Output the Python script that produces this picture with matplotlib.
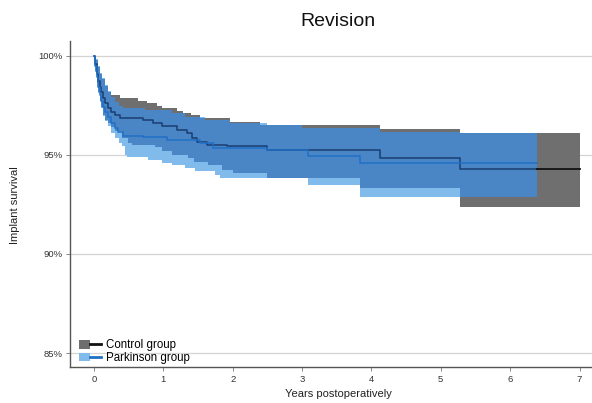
import numpy as np
import matplotlib
matplotlib.use("Agg")
import matplotlib.pyplot as plt
from matplotlib.patches import Patch
from matplotlib.lines import Line2D
from matplotlib.legend_handler import HandlerTuple

plt.rcParams['font.family'] = ['Liberation Sans', 'DejaVu Sans']

# ---------------- data (years, implant survival %) ----------------
ctrl_end = 7.0
ctrl_t  = [0, 0.02, 0.04, 0.06, 0.08, 0.10, 0.13, 0.16, 0.20, 0.25, 0.30, 0.37, 0.70, 0.85, 0.98, 1.20, 1.34, 1.41, 1.48, 1.63, 1.92, 2.49, 4.12, 5.27]
ctrl_s  = [100, 99.6, 99.1, 98.7, 98.4, 98.15, 97.85, 97.6, 97.35, 97.15, 97.0, 96.85, 96.77, 96.6, 96.43, 96.26, 96.1, 95.84, 95.67, 95.5, 95.42, 95.22, 94.83, 94.29]

ctrl_hi_t = [0, 0.03, 0.06, 0.09, 0.12, 0.16, 0.20, 0.25, 0.37, 0.64, 0.77, 0.91, 0.98, 1.20, 1.29, 1.40, 1.53, 1.96, 2.39, 4.12, 5.27]
ctrl_hi   = [100, 99.8, 99.45, 99.1, 98.8, 98.45, 98.15, 98.03, 97.86, 97.73, 97.61, 97.44, 97.36, 97.19, 97.11, 97.02, 96.85, 96.68, 96.52, 96.3, 96.11]

ctrl_lo_t = [0, 0.02, 0.04, 0.06, 0.08, 0.10, 0.13, 0.16, 0.20, 0.25, 0.30, 0.40, 0.49, 0.55, 0.88, 0.98, 1.12, 1.35, 1.44, 1.64, 1.85, 2.00, 2.49, 3.83, 5.27]
ctrl_lo   = [100, 99.25, 98.65, 98.15, 97.75, 97.4, 97.0, 96.75, 96.6, 96.4, 96.18, 95.84, 95.59, 95.5, 95.38, 95.17, 95.0, 94.83, 94.66, 94.5, 94.25, 94.07, 93.82, 93.33, 92.37]

park_end = 6.38
park_t  = [0, 0.02, 0.04, 0.06, 0.08, 0.10, 0.13, 0.16, 0.20, 0.25, 0.30, 0.35, 0.42, 0.71, 1.05, 1.53, 1.71, 2.49, 3.08, 3.83]
park_s  = [100, 99.5, 98.9, 98.4, 98.0, 97.7, 97.4, 97.15, 96.9, 96.6, 96.35, 96.15, 95.96, 95.89, 95.76, 95.59, 95.34, 95.22, 94.95, 94.58]

park_hi_t = [0, 0.03, 0.06, 0.09, 0.12, 0.16, 0.20, 0.25, 0.30, 0.36, 0.42, 0.73, 1.12, 1.31, 1.60, 1.96, 2.49, 3.00, 4.12, 5.27]
park_hi   = [100, 99.85, 99.5, 99.15, 98.85, 98.5, 98.2, 97.9, 97.65, 97.45, 97.36, 97.27, 97.11, 96.93, 96.77, 96.6, 96.5, 96.35, 96.13, 96.11]

park_lo_t = [0, 0.02, 0.04, 0.06, 0.08, 0.10, 0.13, 0.16, 0.20, 0.25, 0.30, 0.36, 0.40, 0.45, 0.48, 0.78, 0.98, 1.12, 1.31, 1.45, 1.75, 1.82, 3.08, 3.83]
park_lo   = [100, 99.2, 98.6, 98.1, 97.7, 97.35, 96.95, 96.7, 96.45, 96.1, 95.84, 95.6, 95.42, 95.0, 94.91, 94.75, 94.58, 94.5, 94.33, 94.16, 93.99, 93.82, 93.48, 92.89]

groups = ["Control group", "Parkinson group"]
x_ticks = [0, 1, 2, 3, 4, 5, 6, 7]
y_ticks = [85, 90, 95, 100]
y_ticklabels = ["85%", "90%", "95%", "100%"]

# ---------------- helpers ----------------
def step_eval(t, v, grid):
    t = np.asarray(t, float)
    v = np.asarray(v, float)
    idx = np.searchsorted(t, grid, side='right') - 1
    idx = np.clip(idx, 0, len(v) - 1)
    return v[idx]

def grid_of(end, *ts):
    g = np.unique(np.concatenate([np.asarray(t, float) for t in ts] + [[end]]))
    return g[g <= end]

# colours
c_gray = "#6f6f6f"
c_light = "#80bbec"
c_mid = "#4a86c6"
c_park_line = "#1f6fc5"
c_ctrl_line = "#1a3f70"

fig = plt.figure(figsize=(5.92, 4.03), dpi=100)
ax = fig.add_axes([69.5 / 592, 36 / 403, 1 - 69.5 / 592, (367 - 41) / 403])

# gridlines
for yv in y_ticks:
    ax.axhline(yv, color="#d4d4d4", lw=0.9, zorder=0)

# control CI
gc = grid_of(ctrl_end, ctrl_t, ctrl_hi_t, ctrl_lo_t)
ax.fill_between(gc, step_eval(ctrl_lo_t, ctrl_lo, gc), step_eval(ctrl_hi_t, ctrl_hi, gc),
                step='post', color=c_gray, lw=0, zorder=1)
# parkinson CI
gp = grid_of(park_end, park_t, park_hi_t, park_lo_t)
ax.fill_between(gp, step_eval(park_lo_t, park_lo, gp), step_eval(park_hi_t, park_hi, gp),
                step='post', color=c_light, lw=0, zorder=2)
# overlap of both confidence bands
go = grid_of(park_end, ctrl_t, ctrl_hi_t, ctrl_lo_t, park_t, park_hi_t, park_lo_t)
o_lo = np.maximum(step_eval(ctrl_lo_t, ctrl_lo, go), step_eval(park_lo_t, park_lo, go))
o_hi = np.minimum(step_eval(ctrl_hi_t, ctrl_hi, go), step_eval(park_hi_t, park_hi, go))
ax.fill_between(go, o_lo, o_hi, where=o_hi >= o_lo, step='post', color=c_mid, lw=0, zorder=3)

# survival lines
gcs = grid_of(ctrl_end, ctrl_t)
inside = gcs <= park_end
g_in = np.append(gcs[inside], park_end)
ax.step(g_in, step_eval(ctrl_t, ctrl_s, g_in), where='post', color=c_ctrl_line, lw=1.1, zorder=4)
g_out = np.unique(np.concatenate([[park_end], gcs[gcs > park_end], [ctrl_end]]))
ax.step(g_out, step_eval(ctrl_t, ctrl_s, g_out), where='post', color="#111111", lw=1.3, zorder=4)

gps = grid_of(park_end, park_t)
ax.step(gps, step_eval(park_t, park_s, gps), where='post', color=c_park_line, lw=1.1, zorder=5)

# axes styling
ax.set_xlim(-0.353, 7.18)
ax.set_ylim(84.3, 100.74)
ax.set_xticks(x_ticks)
ax.set_yticks(y_ticks)
ax.set_yticklabels(y_ticklabels)
ax.tick_params(axis='both', labelsize=6.8, colors="#333333", length=3, width=0.7, pad=2)
ax.tick_params(axis='y', color="#888888")
ax.tick_params(axis='x', color="#888888", pad=3)
for s in ["top", "right"]:
    ax.spines[s].set_visible(False)
for s in ["left", "bottom"]:
    ax.spines[s].set_color("#555555")
    ax.spines[s].set_linewidth(1.0)
ax.set_facecolor("white")

fig.text(338 / 592, 1 - 22 / 403, "Revision", ha="center", va="center", fontsize=14, color="#111111")
fig.text(338 / 592, 1 - 394 / 403, "Years postoperatively", ha="center", va="center", fontsize=8, color="#222222")
fig.text(15 / 592, 1 - 205 / 403, "Implant survival", ha="center", va="center", rotation=90, fontsize=8, color="#222222")

handles = [
    (Patch(facecolor=c_gray, edgecolor="none"), Line2D([], [], color="#111111", lw=2)),
    (Patch(facecolor=c_light, edgecolor="none"), Line2D([], [], color=c_park_line, lw=2)),
]
ax.legend(handles, groups, handler_map={tuple: HandlerTuple(ndivide=None, pad=0)},
          loc="lower left", bbox_to_anchor=((79 - 69.5) / (592 - 69.5), (367 - 364) / (367 - 41)),
          frameon=False, fontsize=8.3, handlelength=1.9, handleheight=0.75,
          handletextpad=0.45, labelspacing=0.05, borderpad=0, borderaxespad=0)

fig.savefig("out.png", dpi=100, facecolor="white")
